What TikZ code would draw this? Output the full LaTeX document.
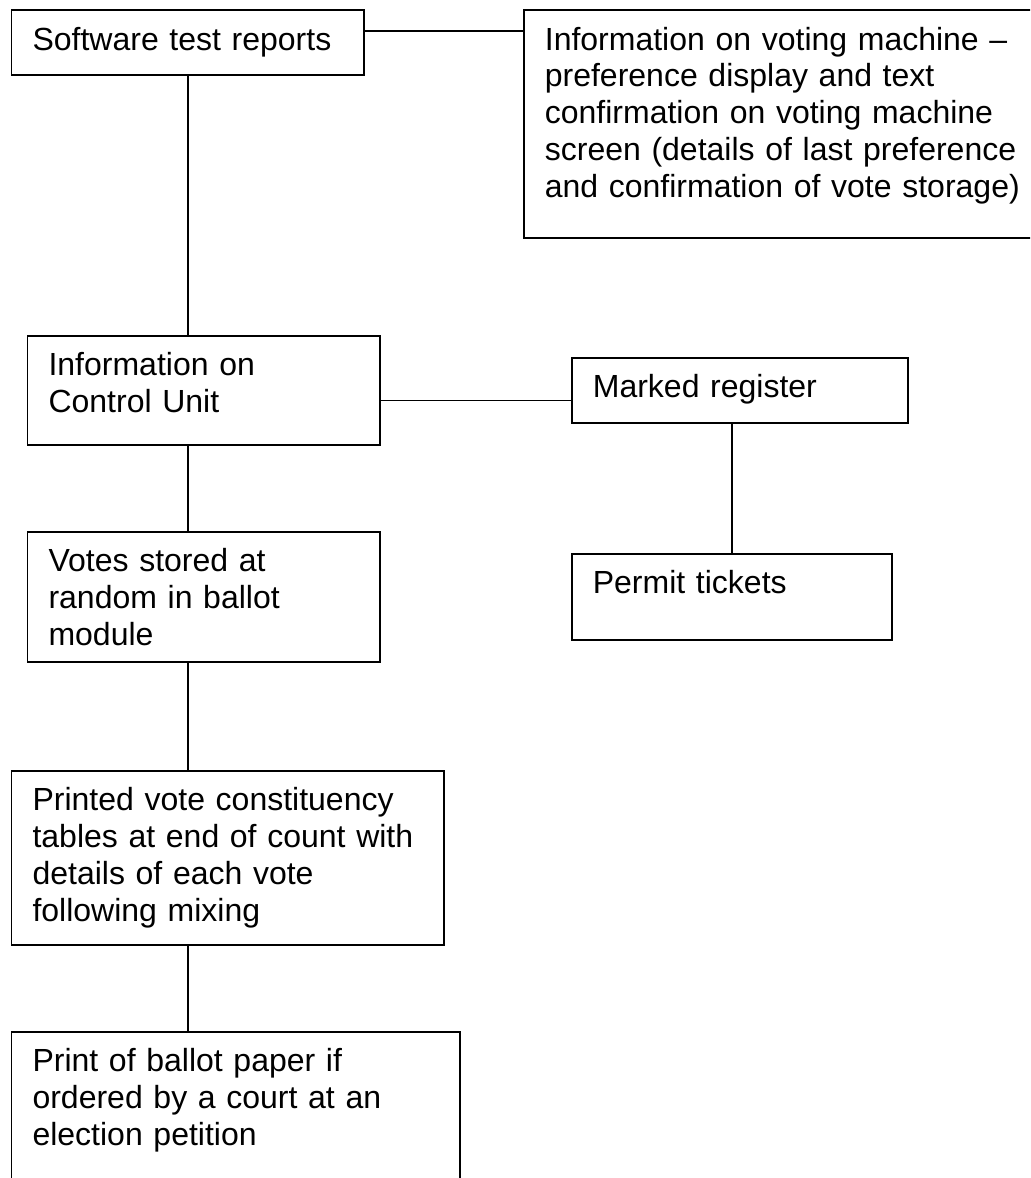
\documentclass[tikz,border=0pt]{standalone}
\usepackage{fontspec}
\setmainfont{Liberation Sans}
\usetikzlibrary{positioning}

\begin{document}
\begin{tikzpicture}[%
    line width=0.85pt,
    box/.style={draw, anchor=north west, align=left,
        inner xsep=10.5pt, inner ysep=5.5pt, text height=14.5pt,
        font=\fontsize{16pt}{18.4pt}\selectfont}
]

\useasboundingbox (0,0) rectangle (515pt,-589pt);
\clip (0,0) rectangle (515pt,-589pt);

% top row
\node[box, text width=155.15pt, text depth=7pt] (soft) at (5.35pt,-4.65pt)
    {Software test reports};

\node[box, text width=249pt, text depth=88.5pt] (machine) at (261.5pt,-4.65pt)
    {Information on voting machine --\\
     preference display and text\\
     confirmation on voting machine\\
     screen (details of last preference\\
     and confirmation of vote storage)};

% control unit and register
\node[box, text width=155.15pt, text depth=29pt] (control) at (13.35pt,-167.5pt)
    {Information on\\Control Unit};

\node[box, text width=147pt, text depth=7pt] (register) at (285.5pt,-178.5pt)
    {Marked register};

% lower boxes
\node[box, text width=155.15pt, text depth=39.5pt] (votes) at (13.35pt,-265.5pt)
    {Votes stored at\\random in ballot\\module};

\node[box, text width=139pt, text depth=17.5pt] (permit) at (285.5pt,-276.5pt)
    {Permit tickets};

\node[box, text width=195.15pt, text depth=61.5pt] (tables) at (5.35pt,-385pt)
    {Printed vote constituency\\
     tables at end of count with\\
     details of each vote\\
     following mixing};

\node[box, text width=203.15pt, text depth=74.5pt] (ballot) at (5.35pt,-515.5pt)
    {Print of ballot paper if\\
     ordered by a court at an\\
     election petition};

% connectors
\draw ([yshift=-11pt]soft.north east) -- ([yshift=-11pt]machine.north west);
\draw (soft.south) -- (soft.south |- control.north);
\draw ([yshift=-5pt]control.east) -- ([yshift=-5pt]control.east -| register.west);
\draw (permit.north) -- (permit.north |- register.south);
\draw (soft.south |- control.south) -- (soft.south |- votes.north);
\draw (soft.south |- votes.south) -- (soft.south |- tables.north);
\draw (soft.south |- tables.south) -- (soft.south |- ballot.north);

\end{tikzpicture}
\end{document}
